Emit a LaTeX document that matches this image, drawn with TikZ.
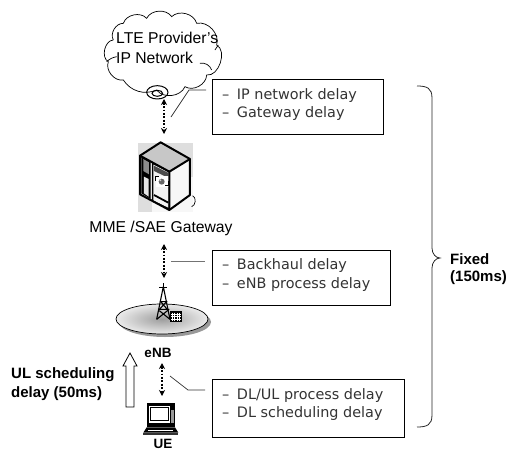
\documentclass[tikz,border=0pt]{standalone}
\usepackage{fontspec}
\setmainfont{Liberation Sans}
\newfontfamily\boxfont{DejaVu Sans}
\usetikzlibrary{arrows.meta}
\tikzset{
 delaybox/.style={draw=black,line width=0.7pt,inner sep=0pt,anchor=north west},
 delaytext/.style={anchor=west,inner sep=0pt,font=\boxfont\fontsize{14.4}{16}\selectfont,text=black!80},
 lbl/.style={inner sep=0pt,font=\fontsize{15.7}{18}\selectfont},
 blbl/.style={inner sep=0pt,anchor=west,font=\bfseries\fontsize{15}{18}\selectfont},
 dbl/.style={line width=1.6pt,dash pattern=on 1.8pt off 1.6pt,{Stealth[length=6pt,width=6pt]}-{Stealth[length=6pt,width=6pt]}},
 leader/.style={line width=0.7pt,black!80},
 zoomC/.style={shift={(100,5)},x=.3333pt,y=-.3333pt},
 zoomS/.style={shift={(130,135)},x=.3333pt,y=-.3333pt},
 zoomB/.style={shift={(0,240)},x=.3333pt,y=-.3333pt}
}
\begin{document}
\begin{tikzpicture}[x=1pt,y=-1pt]
\useasboundingbox (0,0) rectangle (509,450);
\clip (0,0) rectangle (509,450);
% cloud
\begin{scope}[zoomC]
\draw[line width=.7pt,fill=white] (40,105) to[bend left=60] (70,55) to[bend left=60] (140,40) to[bend left=60] (215,35) to[bend left=60] (290,55) to[bend left=60] (350,120) to[bend left=80] (320,210) to[bend left=60] (255,245) to[bend left=60] (170,255) to[bend left=40] (70,225) to[bend left=60] (25,170) to[bend left=75] (40,105);
\draw[line width=.7pt] (50,155) to[bend right=15] (20,170);
\draw[line width=.7pt] (300,175) to[bend left=40] (335,195);
\draw[line width=.7pt] (355,120) to[bend left=15] (345,135);
\draw[line width=1pt] (172,262) ellipse (32 and 20);
\draw[line width=1pt] (172,265) ellipse (16 and 9);
\end{scope}
\node[lbl,anchor=west] (cloudA) at (116,38) {LTE Provider's};
\node[lbl,anchor=west] (cloudB) at (116,58) {IP Network};
% server
\begin{scope}[zoomS]
\fill[black!13] (25,25) rectangle (190,230);
\fill[black!3] (65,125) rectangle (190,230);
\fill[black!22] (92,22) -- (180,72) -- (118,110) -- (30,62) -- cycle;
\fill[black!3] (118,110) -- (180,72) -- (180,180) -- (118,225) -- cycle;
\fill[black!10] (30,62) -- (118,110) -- (118,225) -- (30,178) -- cycle;
\fill[black] (34,66) -- (62,80) -- (62,192) -- (34,175) -- cycle;
\fill[black!45] (40,72) -- (57,82) -- (57,118) -- (40,108) -- cycle;
\fill[black!10] (42,125) -- (56,132) -- (56,185) -- (42,175) -- cycle;
\fill[black!5,draw=black,line width=1.2pt] (68,85) -- (118,110) -- (118,222) -- (68,198) -- cycle;
\fill[black!70] (72,92) -- (114,113) -- (114,128) -- (72,108) -- cycle;
\draw[black,line width=1.8pt] (72,180) -- (115,203);
\fill[white] (78,122) rectangle (116,155);
\draw[line width=1pt] (77,138) -- (77,124) -- (88,124) (116,138) -- (116,153) -- (105,153);
\fill[black!60] (95,140) circle (9);
\fill[black!20] (91,136) circle (3);
\draw[line width=2pt,line join=round] (92,22) -- (180,72) -- (180,180) -- (118,225) -- (30,178) -- (30,62) -- cycle;
\draw[line width=2pt,line join=round] (30,62) -- (118,110) -- (180,72) (118,110) -- (118,225);
\draw[line width=.7pt] (188,182) to[bend left=70] (185,215);
\end{scope}
\node[lbl] (gw) at (161,228) {MME /SAE Gateway};
% eNB disc
\fill[black!40] (165,322) ellipse (46 and 15);
\shade[inner color=black!38,outer color=black!8,draw=black,line width=.7pt] (162,319) ellipse (46 and 15);
\begin{scope}[zoomB,line width=1.1pt]
\draw (490,140) -- (470,238) (490,140) -- (510,238);
\draw (480,185) -- (502,185) (475,208) -- (508,208) (482,185) -- (502,208) (500,185) -- (478,208) (470,238) -- (505,210) (510,238) -- (478,212);
\draw (478,142) -- (502,142) (490,130) -- (490,150);
\fill[black] (510,212) rectangle (546,246);
\draw[white,line width=.6pt] (517,218) -- (517,242) (524,218) -- (524,242) (531,218) -- (531,242) (538,218) -- (538,242) (514,223) -- (542,223) (514,230) -- (542,230) (514,237) -- (542,237);
\end{scope}
\node[lbl,font=\fontsize{13.5}{16}\selectfont\bfseries] (enb) at (158,353) {eNB};
% laptop
\begin{scope}[zoomB]
\fill[black] (440,490) rectangle (525,562);
\fill[white] (448,497) rectangle (510,550);
\draw[line width=1pt] (453,502) rectangle (505,542);
\fill[black!40] (513,510) rectangle (521,550);
\fill[black] (440,562) -- (525,562) -- (535,578) -- (430,578) -- cycle;
\fill[black!80] (430,580) rectangle (535,586);
\draw[white,line width=.7pt] (444,570) -- (520,570);
\end{scope}
\node[lbl,font=\bfseries\fontsize{13.5}{16}\selectfont] (ue) at (163,444) {UE};
% named ends
\coordinate (a1) at (164,99); \coordinate (a2) at (164,134);
\coordinate (b1) at (164,244); \coordinate (b2) at (164,278);
\coordinate (c1) at (162,363); \coordinate (c2) at (162,396);
\draw[dbl] (a1) -- (a2);
\draw[dbl] (b1) -- (b2);
\draw[dbl] (c1) -- (c2);
% boxes
\node[delaybox,minimum width=171pt,minimum height=55pt] (box1) at (212,79) {};
\node[delaybox,minimum width=178pt,minimum height=55pt] (box2) at (212,250) {};
\node[delaybox,minimum width=192pt,minimum height=58pt] (box3) at (212,379) {};
\node[delaytext] (t1a) at (222,96) {–\hspace{3pt} IP network delay};
\node[delaytext] (t1b) at (222,114) {–\hspace{3pt} Gateway delay};
\node[delaytext] (t2a) at (222,266) {–\hspace{3pt} Backhaul delay};
\node[delaytext] (t2b) at (222,285) {–\hspace{3pt} eNB process delay};
\node[delaytext] (t3a) at (222,396) {–\hspace{3pt} DL/UL process delay};
\node[delaytext] (t3b) at (222,414) {–\hspace{3pt} DL scheduling delay};
% leaders
\coordinate (l1) at (171,117); \coordinate (l1m) at (189,90); \coordinate (l1e) at (206,90);
\coordinate (l2) at (171,261); \coordinate (l2e) at (205,261);
\coordinate (l3) at (170,376); \coordinate (l3m) at (188,390); \coordinate (l3e) at (205,390);
\draw[leader] (l1) -- (l1m) -- (l1e);
\draw[leader,black!55] (l2) -- (l2e);
\draw[leader] (l3) -- (l3m) -- (l3e);
% hollow arrow
\draw[line width=.8pt,fill=white] (126,407) -- (134,407) -- (134,366) -- (137,366) -- (130,353) -- (123,366) -- (126,366) -- cycle;
\node[blbl] (ul1) at (11,375) {UL scheduling};
\node[blbl] (ul2) at (11,394) {delay (50ms)};
% brace
\draw[line width=.8pt,black!85] (417,86) .. controls (427,86) and (432,88) .. (432,98) -- (432,248) .. controls (432,254) and (436,258) .. (440,258) .. controls (436,258) and (432,262) .. (432,268) -- (432,415) .. controls (432,425) and (427,427) .. (417,427);
\node[blbl] (f1) at (450,259) {Fixed};
\node[blbl] (f2) at (450,278) {(150ms)};
\end{tikzpicture}
\end{document}
